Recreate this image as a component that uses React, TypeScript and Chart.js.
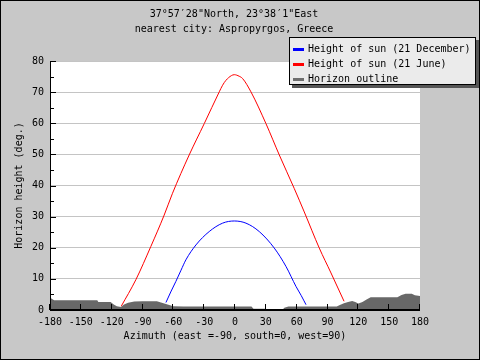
import React, { useEffect, useRef } from "react";
import { Chart, registerables } from "chart.js";

Chart.register(...registerables);

const TITLE_LINES = ["37°57′28\"North, 23°38′1\"East", "nearest city: Aspropyrgos, Greece"];
const X_TITLE = "Azimuth (east =-90, south=0, west=90)";
const Y_TITLE = "Horizon height (deg.)";
const SERIES_LABELS = ["Height of sun (21 December)", "Height of sun (21 June)", "Horizon outline"];

const X_MIN = -180;
const X_MAX = 180;
const X_STEP = 30;
const Y_MIN = 0;
const Y_MAX = 80;
const Y_STEP = 10;
const Y_MINOR = 5;

// 21 December sun path
const decAz = [-67.2, -62.5, -57.5, -52.5, -47.8, -38, -25.1, -12.1, -0.7, 10.7, 23.6, 38.2, 49.6, 59.3, 64.5, 69.1];
const decH = [2.4, 5.8, 9.2, 12.8, 16.1, 20.9, 25.2, 27.9, 28.6, 27.9, 25.2, 19.9, 14.0, 7.6, 4.6, 1.7];

// 21 June sun path
const junAz = [-110.7, -96.5, -81.9, -68.9, -60.8, -44.6, -29.9, -15.3, -12.1, -8.8, -3.5, -0.7, 4.1, 7.3, 15.5, 30.1, 43.1, 57.7, 67.4, 82, 93.4, 106.1];
const junH = [1.2, 9.7, 20.4, 30.5, 37.5, 49.8, 59.9, 70.1, 72.2, 73.8, 75.3, 75.6, 75.1, 74.4, 70.1, 59.9, 49.8, 39.0, 31.5, 19.9, 11.9, 2.8];

// Horizon outline
const horAz = [-180, -178, -176, -134, -133, -121, -118, -115, -111, -108, -104, -98, -90, -76, -72, -68, -64, -60, -50, -30, 0, 16, 18, 30, 32, 46, 48, 52, 70, 99, 102, 106, 110, 114, 117, 120, 124, 128, 132, 158, 162, 166, 172, 175, 180];
const horH = [4.0, 3.5, 3.1, 3.1, 2.6, 2.6, 1.8, 1.2, 1.0, 1.8, 2.3, 2.7, 2.8, 2.8, 2.4, 2.0, 1.6, 1.2, 1.1, 1.1, 1.1, 1.1, 0.4, 0.4, 0, 0, 0.7, 1.1, 1.1, 1.1, 1.6, 2.2, 2.6, 2.9, 2.6, 2.1, 2.6, 3.4, 4.1, 4.1, 4.8, 5.2, 5.2, 4.7, 4.5];

const FONT = '"DejaVu Sans Mono", monospace';
const BG = "#c8c8c8";
const GRID = "#c4c4c4";
const HORIZON = "#686868";

const toPoints = (xs: number[], ys: number[]) => xs.map((x, i) => ({ x, y: ys[i] }));

const framePlugin = {
  id: "framePlugin",
  beforeDraw(chart: any) {
    const { ctx, chartArea: a, width, height } = chart;
    ctx.save();
    ctx.fillStyle = BG;
    ctx.fillRect(0, 0, width, height);
    ctx.fillStyle = "#ffffff";
    ctx.fillRect(a.left, a.top, a.right - a.left, a.bottom - a.top);
    ctx.restore();
  },
  afterDatasetsDraw(chart: any) {
    const { ctx, chartArea: a, scales } = chart;
    const xs = scales.x;
    const ys = scales.y;
    ctx.save();
    ctx.strokeStyle = "#000";
    ctx.lineWidth = 1;
    ctx.beginPath();
    ctx.moveTo(a.left + 0.5, a.top);
    ctx.lineTo(a.left + 0.5, a.bottom);
    for (let v = Y_MIN; v <= Y_MAX; v += Y_MINOR) {
      const py = Math.round(ys.getPixelForValue(v)) + 0.5;
      const len = v % Y_STEP === 0 ? 5 : 3;
      ctx.moveTo(a.left, py);
      ctx.lineTo(a.left + 1 + len, py);
    }
    for (let v = X_MIN; v <= X_MAX; v += X_STEP) {
      const px = Math.round(xs.getPixelForValue(v)) - 0.5;
      ctx.moveTo(px, a.bottom);
      ctx.lineTo(px, a.bottom - 6);
    }
    ctx.stroke();
    ctx.lineWidth = 2;
    ctx.beginPath();
    ctx.moveTo(a.left, a.bottom);
    ctx.lineTo(a.right, a.bottom);
    ctx.stroke();
    ctx.restore();
  },
  afterDraw(chart: any) {
    const { ctx, chartArea: a, width, height } = chart;
    ctx.save();
    // title
    ctx.fillStyle = "#000";
    ctx.font = `10px ${FONT}`;
    ctx.textAlign = "center";
    ctx.textBaseline = "middle";
    const cx = (a.left + a.right) / 2 - 1;
    TITLE_LINES.forEach((t, i) => ctx.fillText(t, cx, 14 + i * 15));

    // legend
    const bx = 289, by = 37, bw = 187, bh = 48;
    ctx.fillStyle = "#555555";
    ctx.fillRect(bx + 3, by + 3, bw, bh);
    ctx.fillStyle = "#ebebeb";
    ctx.fillRect(bx, by, bw, bh);
    ctx.strokeStyle = "#000";
    ctx.lineWidth = 1;
    ctx.strokeRect(bx + 0.5, by + 0.5, bw - 1, bh - 1);
    ctx.textAlign = "left";
    chart.data.datasets.forEach((ds: any, i: number) => {
      const ry = by + 12 + i * 15;
      ctx.fillStyle = ds.legendColor;
      ctx.fillRect(bx + 4, ry - 1, 11, 3);
      ctx.fillStyle = "#000";
      ctx.fillText(ds.label, bx + 19, ry);
    });

    // outer frame
    ctx.strokeStyle = "#000";
    ctx.lineWidth = 1;
    ctx.strokeRect(0.5, 0.5, width - 1, height - 1);
    ctx.restore();
  },
};

export default function App() {
  const ref = useRef<HTMLCanvasElement | null>(null);

  useEffect(() => {
    if (!ref.current) return;
    const chart = new Chart(ref.current, {
      type: "line",
      data: {
        datasets: [
          {
            label: SERIES_LABELS[0],
            data: toPoints(decAz, decH),
            borderColor: "#0000ff",
            borderWidth: 1,
            pointRadius: 0,
            fill: false,
            cubicInterpolationMode: "monotone",
            legendColor: "#0000ff",
          } as any,
          {
            label: SERIES_LABELS[1],
            data: toPoints(junAz, junH),
            borderColor: "#ff0000",
            borderWidth: 1,
            pointRadius: 0,
            fill: false,
            cubicInterpolationMode: "monotone",
            legendColor: "#ff0000",
          } as any,
          {
            label: SERIES_LABELS[2],
            data: toPoints(horAz, horH),
            borderColor: HORIZON,
            backgroundColor: HORIZON,
            borderWidth: 0,
            pointRadius: 0,
            fill: "origin",
            legendColor: "#6e6e6e",
          } as any,
        ],
      },
      options: {
        animation: false,
        responsive: false,
        maintainAspectRatio: false,
        layout: { padding: { left: 0, top: 61, right: 60, bottom: 0 } },
        plugins: {
          legend: { display: false },
          title: { display: false },
          tooltip: { enabled: false },
        },
        scales: {
          x: {
            type: "linear",
            min: X_MIN,
            max: X_MAX,
            ticks: {
              stepSize: X_STEP,
              color: "#000",
              font: { family: FONT, size: 10 },
              padding: 6,
              maxRotation: 0,
              autoSkip: false,
            },
            grid: { display: false, drawTicks: false },
            border: { display: false },
            title: {
              display: true,
              text: X_TITLE,
              color: "#000",
              font: { family: FONT, size: 10 },
              padding: { top: 0, bottom: 18 },
            },
            afterFit: (s: any) => {
              s.height = 50;
            },
          },
          y: {
            type: "linear",
            min: Y_MIN,
            max: Y_MAX,
            ticks: {
              stepSize: Y_STEP,
              color: "#000",
              font: { family: FONT, size: 10 },
              padding: 6,
            },
            grid: { color: GRID, drawTicks: false, lineWidth: 1 },
            border: { display: false },
            title: {
              display: true,
              text: Y_TITLE,
              color: "#000",
              font: { family: FONT, size: 10 },
              padding: { top: 13, bottom: 0 },
            },
            afterFit: (s: any) => {
              s.width = 50;
            },
          },
        },
      } as any,
      plugins: [framePlugin],
    });
    return () => chart.destroy();
  }, []);

  return (
    <div style={{ position: "fixed", left: 0, top: 0, width: 480, height: 360 }}>
      <canvas ref={ref} width={480} height={360} style={{ display: "block", width: 480, height: 360 }} />
    </div>
  );
}
